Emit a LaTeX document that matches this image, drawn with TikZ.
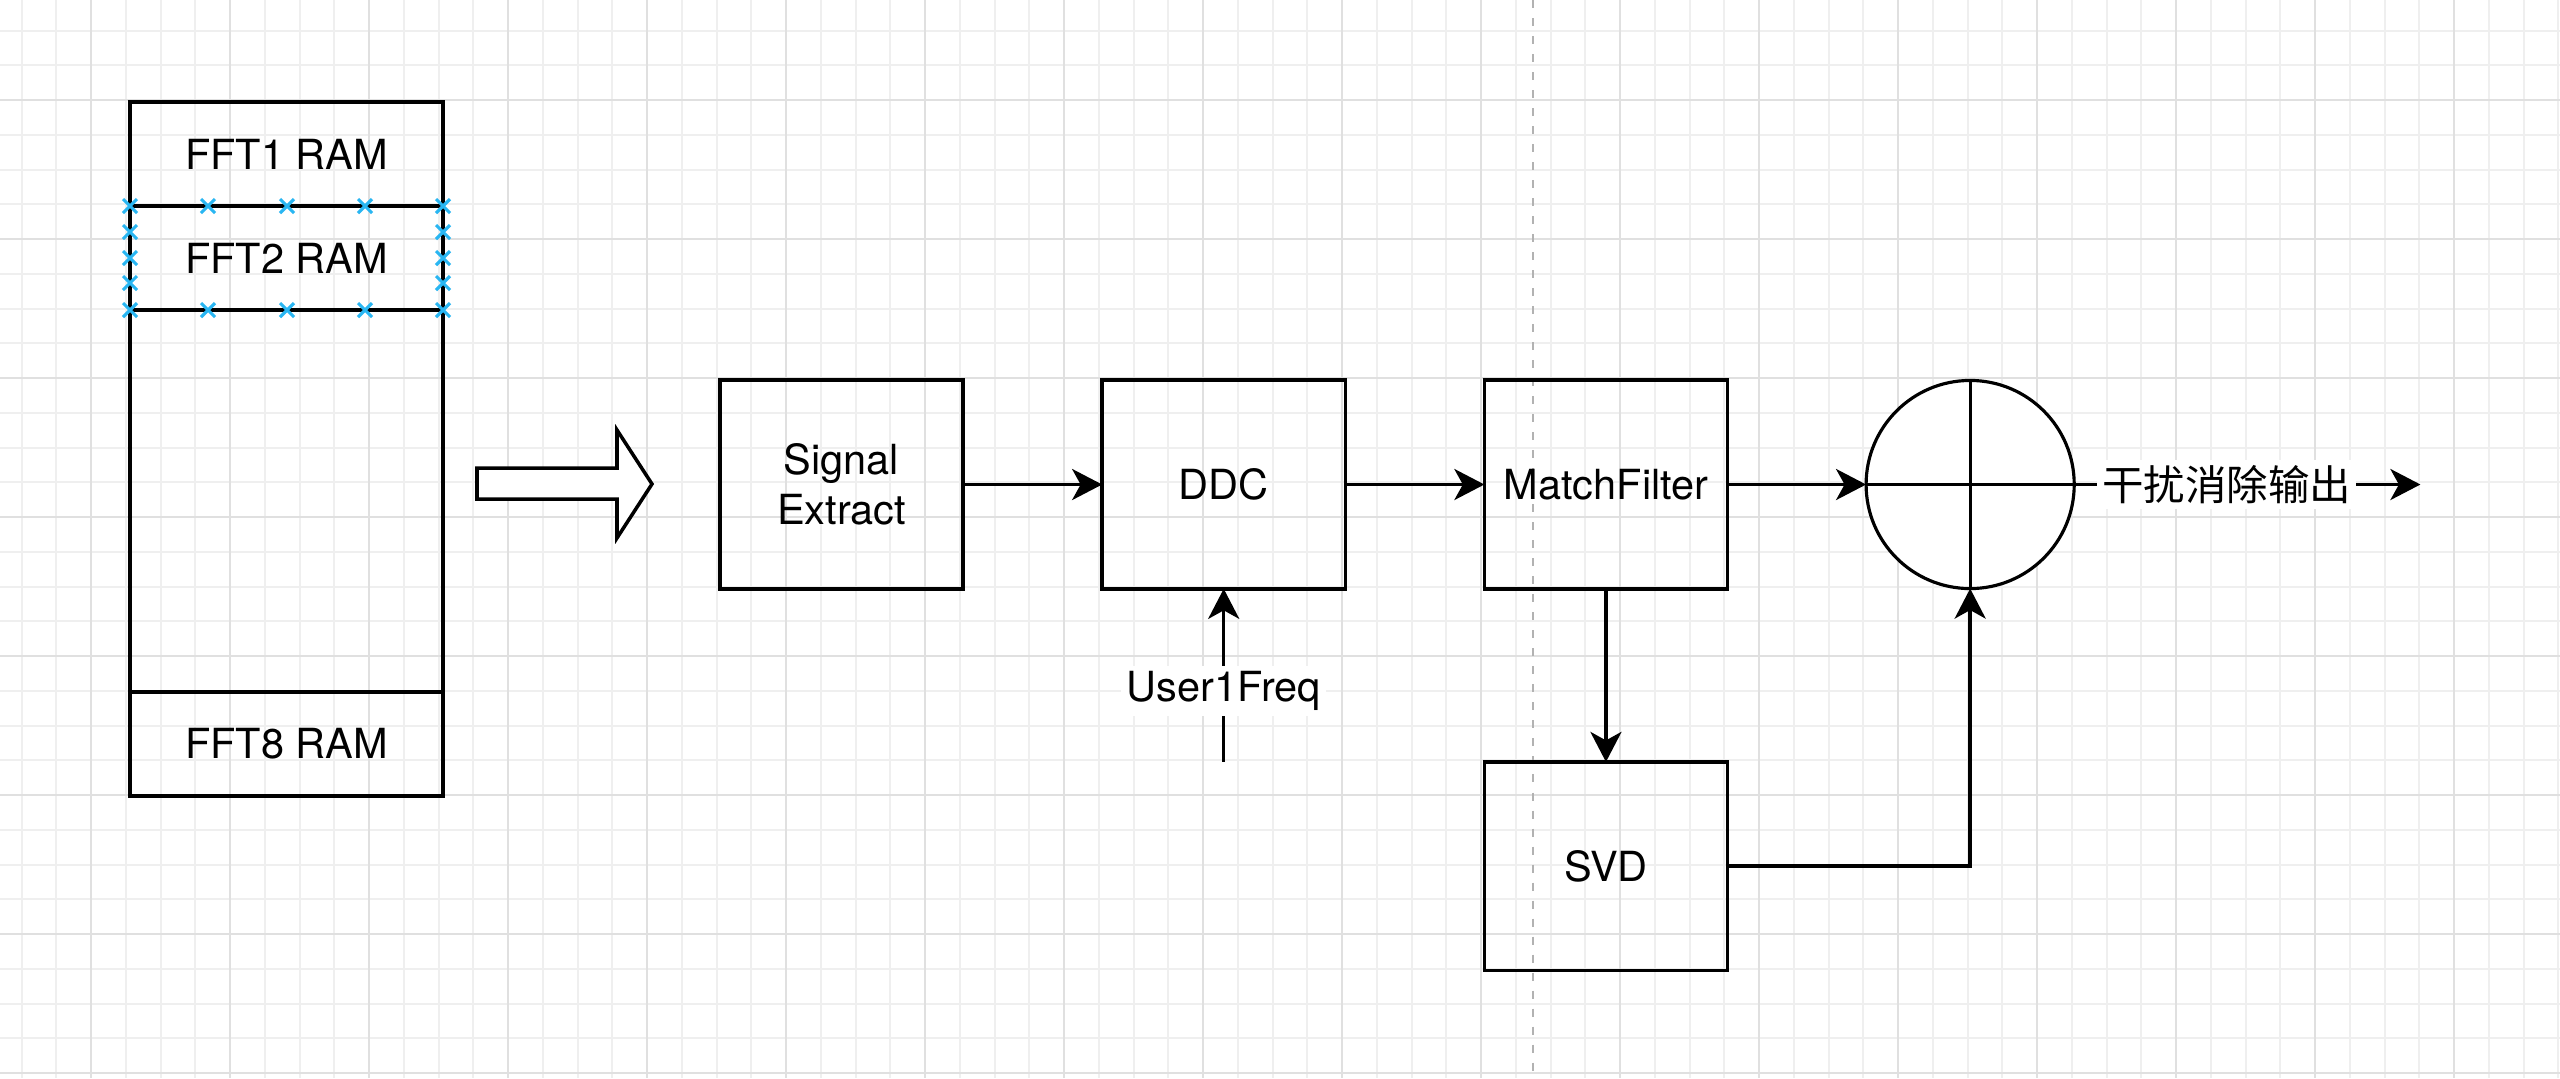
\documentclass[tikz,border=0pt]{standalone}
\usepackage{fontspec}
\setmainfont{TeX Gyre Heros}
\newfontfamily\cjk{Noto Sans CJK SC}
\usetikzlibrary{positioning,arrows.meta,calc}
\definecolor{minorgrid}{HTML}{EFEFEF}
\definecolor{majorgrid}{HTML}{E0E0E0}
\definecolor{ptblue}{HTML}{29B6F2}
\tikzset{block/.style={draw,line width=1pt,minimum width=2.43cm,minimum height=2.085cm,inner sep=0pt,outer sep=0pt,align=center}}
\tikzset{ramcell/.style={draw,line width=1pt,minimum width=3.13cm,minimum height=1.04cm,inner sep=0pt,outer sep=0pt}}
\tikzset{conn/.style={line width=1pt,-{Stealth[length=0.3cm,width=0.31cm,inset=0.085cm]}}}
\tikzset{elabel/.style={fill=white,inner sep=1.5pt}}
\tikzset{xmark/.style={ptblue,line width=0.9pt}}

\begin{document}
\begin{tikzpicture}[x=0.01cm,y=-0.01cm,font=\fontsize{11.8}{14.2}\selectfont]
  \useasboundingbox (0,0) rectangle (2560,1078);
  \fill[white] (0,0) rectangle (2560,1078);
  % grid
  \foreach \i in {0,...,73}
    \draw[minorgrid,line width=0.55pt] ({21.6+34.75*\i},0) -- ++(0,1078);
  \foreach \i in {0,...,30}
    \draw[minorgrid,line width=0.55pt] (0,{30.6+34.75*\i}) -- ++(2560,0);
  \foreach \i in {0,...,17}
    \draw[majorgrid,line width=0.55pt] ({91.1+139*\i},0) -- ++(0,1078);
  \foreach \i in {0,...,7}
    \draw[majorgrid,line width=0.55pt] (0,{100.1+139*\i}) -- ++(2560,0);
  \draw[black!30,line width=0.6pt,dash pattern=on 0.08cm off 0.1cm] (1533,0) -- (1533,1078);

  % fft rams
  \draw[line width=1pt] (130,102) rectangle (443,796);
  \node[ramcell] (fft1) at (286.5,154) {FFT1 RAM};
  \node[ramcell,below=0pt of fft1] (fft2) {FFT2 RAM};
  \node[ramcell] (fft8) at (286.5,744) {FFT8 RAM};
  \foreach \x in {130,208,287,365,443}
    \foreach \y in {206,310}
      \draw[xmark] (\x,\y) +(-7,-7) -- +(7,7) +(-7,7) -- +(7,-7);
  \foreach \x in {130,443}
    \foreach \y in {232,258,283}
      \draw[xmark] (\x,\y) +(-7,-7) -- +(7,7) +(-7,7) -- +(7,-7);

  \draw[line width=1pt,fill=white] (477,468) -- (617,468) -- (617,430) -- (652,484)
    -- (617,538) -- (617,499) -- (477,499) -- cycle;

  % chain
  \node[block] (se) at (841.5,484.5) {Signal\\Extract};
  \node[block,right=1.39cm of se] (ddc) {DDC};
  \node[block,right=1.39cm of ddc] (mf) {MatchFilter};
  \node[block,below=1.73cm of mf] (svd) {SVD};
  \node[draw,circle,line width=0.9pt,fill=white,minimum size=2.08cm,inner sep=0pt,outer sep=0pt,right=1.385cm of mf] (sum) {};
  \draw[line width=0.9pt] (sum.north) -- (sum.south);
  \draw[line width=0.9pt] (sum.west) -- (sum.east);
  \coordinate[below=1.73cm of ddc] (freq);
  \coordinate[right=3.46cm of sum] (out);

  \draw[conn] (se.east) -- (ddc.west);
  \draw[conn] (ddc.east) -- (mf.west);
  \draw[conn] (mf.east) -- (sum.west);
  \draw[conn] (mf.south) -- (svd.north);
  \draw[conn] (svd.east) -| (sum.south);
  \draw[conn] (freq) -- node[elabel,pos=0.41] {User1Freq} (ddc.south);
  \draw[conn] (sum.east) -- node[elabel,pos=0.44] {\cjk 干扰消除输出} (out);
\end{tikzpicture}
\end{document}
